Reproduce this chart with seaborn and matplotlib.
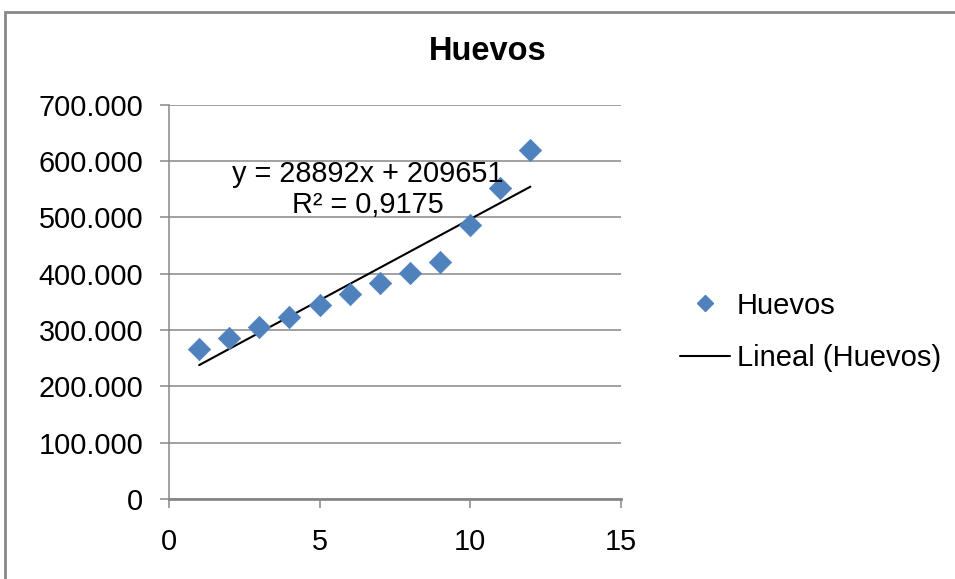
import numpy as np
import pandas as pd
import matplotlib
matplotlib.use("Agg")
import matplotlib.pyplot as plt
import seaborn as sns
from matplotlib.ticker import FuncFormatter, MultipleLocator
from matplotlib.lines import Line2D
from matplotlib.patches import Rectangle

# data
x_vals = [1, 2, 3, 4, 5, 6, 7, 8, 9, 10, 11, 12]
huevos = [266000, 286000, 305000, 324000, 345000, 364000,
          383000, 402000, 421000, 487000, 553000, 619000]
eq_line1 = "y = 28892x + 209651"
eq_line2 = "R² = 0,9175"

df = pd.DataFrame({"x": x_vals, "Huevos": huevos})
slope, intercept = np.polyfit(df["x"], df["Huevos"], 1)
df["trend"] = slope * df["x"] + intercept

sns.set_style("white")
plt.rcParams["font.family"] = ["Liberation Sans", "DejaVu Sans"]
plt.rcParams["text.color"] = "black"

fig = plt.figure(figsize=(9.55, 5.79), dpi=100)
ax = fig.add_axes([0.177, 0.138, 0.473, 0.681])

# outer chart border
fig.patches.append(Rectangle((5 / 955, -0.01), 1.0, 1 - 12 / 579 + 0.01,
                             transform=fig.transFigure, fill=False,
                             edgecolor="#888888", linewidth=2))

sns.lineplot(data=df, x="x", y="trend", color="black", linewidth=1.5, ax=ax)
sns.scatterplot(data=df, x="x", y="Huevos", marker="D", s=130,
                color="#4F81BD", edgecolor="#4F81BD", linewidth=0.5,
                ax=ax, zorder=3)

ax.set_xlim(0, 15)
ax.set_ylim(0, 700000)
ax.xaxis.set_major_locator(MultipleLocator(5))
ax.yaxis.set_major_locator(MultipleLocator(100000))
ax.yaxis.set_major_formatter(FuncFormatter(lambda v, p: f"{int(v):,}".replace(",", ".")))
ax.grid(axis="y", color="#888888", linewidth=1.1)
ax.set_axisbelow(True)
for side in ["top", "right"]:
    ax.spines[side].set_visible(False)
ax.spines["left"].set_color("#888888")
ax.spines["left"].set_linewidth(1.1)
ax.spines["bottom"].set_color("#888888")
ax.spines["bottom"].set_linewidth(2)
ax.tick_params(axis="both", labelsize=20.8, labelcolor="black", length=6.5,
               color="#888888", direction="out", width=1.1,
               left=True, bottom=True)
ax.tick_params(axis="y", pad=12)
ax.tick_params(axis="x", pad=14)
ax.set_xlabel("")
ax.set_ylabel("")

ax.text(6.6, 578000, eq_line1, ha="center", va="center", fontsize=20.8)
ax.text(6.6, 523000, eq_line2, ha="center", va="center", fontsize=20.8)

fig.text(488 / 955, 1 - 52 / 579, "Huevos", ha="center", va="center",
         fontsize=23.5, fontweight="bold")

handles = [
    Line2D([], [], marker="D", color="#4F81BD", linestyle="none", markersize=8),
    Line2D([], [], color="black", linewidth=1.5),
]
fig.legend(handles, ["Huevos", "Lineal (Huevos)"], loc="center left",
           bbox_to_anchor=(680 / 955, 1 - 332 / 579), frameon=False,
           fontsize=21, borderpad=0, borderaxespad=0,
           handlelength=1.7, handletextpad=0.25, labelspacing=0.85)

fig.savefig("out.png", dpi=100)
